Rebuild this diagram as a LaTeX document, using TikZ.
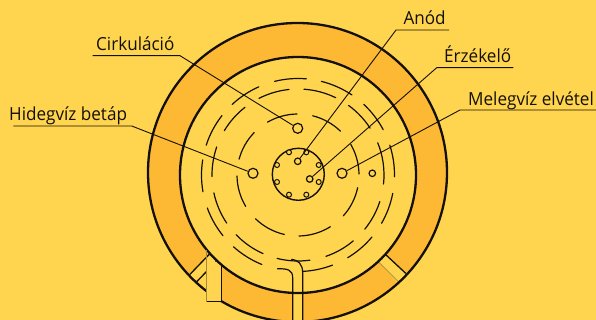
\documentclass[tikz,border=0pt]{standalone}
\usepackage{fontspec}
\setmainfont[FakeStretch=0.95]{Open Sans}
\definecolor{bgc}{HTML}{FFD54F}
\definecolor{ringc}{HTML}{FDB933}
\definecolor{inkc}{HTML}{141008}
\definecolor{faintc}{HTML}{A58A3A}
\newcommand{\carc}[3]{\draw[baffle] ($(ctr)+(#2:#1pt)$) arc[start angle=#2,end angle=#3,radius=#1pt];}
\usetikzlibrary{calc}
\tikzset{
  x=1pt,y=-1pt,
  baffle/.style={inkc,line width=1.2pt,line cap=round},
  wall/.style={inkc,line width=2.3pt},
  leader/.style={inkc,line width=.9pt,line join=round},
  port/.style={circle,draw=inkc,fill=bgc,line width=1.2pt,inner sep=0pt,minimum size=10pt},
  sensor/.style={circle,draw=inkc,fill=bgc,line width=1.2pt,inner sep=0pt,minimum size=6.5pt},
  hole/.style={circle,draw=inkc,fill=bgc,line width=1pt,inner sep=0pt,minimum size=5pt},
  lab/.style={anchor=base west,inner sep=0pt,text=inkc,font=\fontsize{18}{20}\selectfont},
}
\begin{document}
\begin{tikzpicture}
\useasboundingbox (0,0) rectangle (596,320);
\fill[bgc] (0,0) rectangle (596,320);
\coordinate (ctr) at (298,175);
\coordinate (ctro) at (297.5,172.5);
% ring
\fill[ringc] (ctro) circle[radius=149.5pt];
\begin{scope}
  \clip (ctro) circle[radius=149.5pt];
  \fill[bgc] (216,261.7) -- (170,295) -- (170,320) -- (221.7,320) -- (221.7,250) -- cycle;
  \fill[bgc] (209.3,254.3) -- (170,295) -- (200,300) -- (221.7,255) -- cycle;
  \fill[bgc] (385,254) -- (415,282) -- (405,291) -- (378.3,261.7) -- cycle;
  \draw[faintc,line width=.8pt] (378.3,261.7) -- (398.3,281.7);
  \draw[wall,line width=1.3pt] (385,254) -- (405.7,273.3);
  \draw[wall,line width=1.3pt] (190,274.3) -- (209.3,254.3);
  \draw[wall,line width=1.3pt] (196.7,281.7) -- (216,261.7);
\end{scope}
\draw[wall] (ctro) circle[radius=149.5pt];
% stub boxes
\fill[bgc] (206.7,262) rectangle (221.7,301.7);
\draw[faintc,line width=1pt] (206.7,250) -- (206.7,301.7);
\draw[inkc,line width=1.3pt] (221.7,262) -- (221.7,301.7) -- (206.7,301.7);
\fill[bgc] (292.7,285) rectangle (302.7,320);
% inner wall
\fill[bgc] (ctr) circle[radius=118pt];
\draw[wall] (ctr) circle[radius=118pt];
\draw[faintc,line width=1pt] (206.7,250) -- (206.7,263);
\draw[inkc,line width=1.3pt] (221.7,264) -- (221.7,270);
% baffles r=97
\foreach \a/\b in {85/104,56/76,28/47,-1/18,-30/-11,-59/-40,-87/-69,-132/-112,-160/-141,171/190,142/162,114/133}
  {\carc{96.5}{\a}{\b}}
% baffles r=86
\foreach \a/\b in {96/117,64/86,33/54,-6/22,-39/-18,-71/-50,-104/-82,-136/-114,-168/-146,161/181,128/149}
  {\carc{86}{\a}{\b}}
% baffles r=61
\foreach \a/\b in {91/120,46/76,1/30,-42/-12,-89/-58,-134/-103,-179/-149,136/165}
  {\carc{61}{\a}{\b}}
% central pipe
\draw[inkc,line width=1.2pt,line cap=round] ($(ctr)+(-102.3:96pt)$) .. controls (288,268.5) and (292.7,270) .. (292.7,278) -- (292.7,320);
\draw[inkc,line width=1.2pt,line cap=round] (291.7,259.3) .. controls (298,260) and (302.7,264) .. (302.7,273) -- (302.7,320);
% centre
\draw[inkc,line width=1.4pt] (298.3,174.3) circle[radius=26pt];
\node[hole] (h1) at (289,152.3) {};
\node[hole] (h2) at (306.3,152.3) {};
\node[hole] (h3) at (318.7,165) {};
\node[hole] (h4) at (318.7,182) {};
\node[hole] (h5) at (306.3,194.7) {};
\node[hole] (h6) at (289,194.7) {};
\node[hole] (h7) at (277,182) {};
\node[hole] (h8) at (277,165) {};
\node[sensor] (anod) at (297.7,161.3) {};
\node[sensor] (erz) at (309.7,179) {};
\node[port] (circ) at (297.7,128.3) {};
\node[port] (cold) at (253,173.3) {};
\node[port] (hot) at (342,173.3) {};
\node[sensor] (aux) at (372.3,173.3) {};
% labels
\node[lab] (lcirc) at (96,51) {Cirkuláció};
\node[lab] (lcold) at (9,120.7) {Hidegvíz betáp};
\node[lab] (lanod) at (403.3,25) {Anód};
\node[lab] (lerz) at (444,62.7) {Érzékelő};
\node[lab] (lhot) at (468,106) {Melegvíz elvétel};
% leaders
\coordinate (c1) at (92.7,55.7); \coordinate (c2) at (180,55.7);
\coordinate (k1) at (13.3,126); \coordinate (k2) at (131.7,126);
\coordinate (a1) at (449,30); \coordinate (a2) at (396,30);
\coordinate (e1) at (513.3,67.7); \coordinate (e2) at (436.7,67.7);
\coordinate (m1) at (596,110); \coordinate (m2) at (460,110);
\draw[leader] (c1) -- (c2) -- (circ);
\draw[leader] (k1) -- (k2) -- (cold);
\draw[leader] (a1) -- (a2) -- (anod);
\draw[leader] (e1) -- (e2) -- (erz);
\draw[leader] (m1) -- (m2) -- (hot);
\end{tikzpicture}
\end{document}
